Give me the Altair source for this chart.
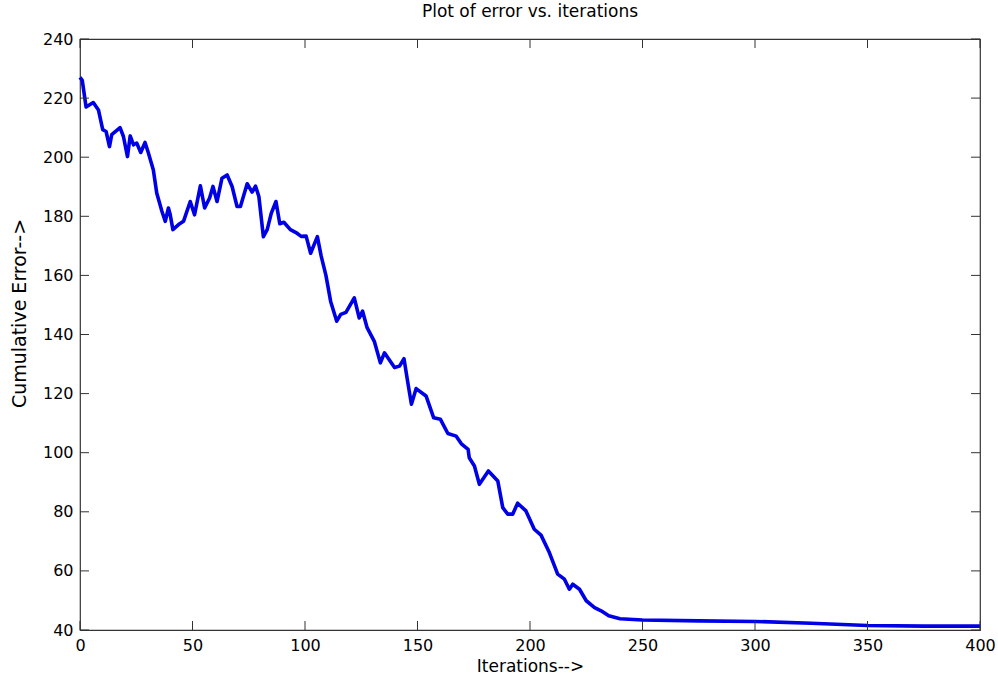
import altair as alt
import pandas as pd

iterations = [0, 1, 2.7, 5.9, 8.2, 10.1, 11.6, 13.1, 14.1, 17.8, 19.3, 21.1, 22.3, 23.8, 25.2, 27, 28.9,
              30.4, 32.6, 34.1, 36.4, 37.9, 39.3, 40.1, 41.3, 43.8, 46, 49, 50.9, 53.5, 55.4, 57.6,
              59.1, 60.9, 63.1, 65.4, 67.6, 69.8, 71.3, 74.3, 76.5, 78, 79.5, 81.5, 83.2, 85, 87.1,
              88.8, 90.6, 93.5, 96, 98.3, 100.5, 102.5, 105.5, 107.2, 109.3, 111.4, 114.1, 115.9,
              118.2, 121.9, 124.1, 125.6, 127.6, 130.8, 133.5, 135.3, 139.8, 142, 144, 145.6, 147.3,
              149.4, 153.8, 157.2, 160.2, 163.5, 167.2, 169.5, 172.5, 173, 175.3, 177.5, 181.5,
              185.7, 187.9, 190.1, 192.3, 194.5, 198.2, 201.9, 204.9, 208.6, 212.3, 215.3, 217.5,
              219, 222, 225, 228.7, 231.6, 235, 240, 250, 275, 300, 325, 350, 375, 400]
errors = [227, 226, 217, 218.5, 216, 209.3, 208.7, 203.6, 207.6, 210, 207, 200.2, 207.2, 204.2, 204.8,
          201.6, 205, 201.4, 195.7, 187.9, 181.7, 178.3, 182.8, 180.5, 175.5, 177.2, 178.3, 185,
          180.5, 190.3, 182.8, 186.2, 190.1, 185, 192.9, 194, 190.1, 183.3, 183.3, 191, 188.2,
          190.2, 186.7, 173.1, 175.5, 181, 185, 177.5, 178, 175.5, 174.5, 173.2, 173.3, 167.5,
          173.1, 166.5, 160, 151.2, 144.5, 146.8, 147.5, 152.4, 145.6, 147.9, 142.3, 137.7, 130.4,
          133.8, 128.8, 129.3, 131.8, 124.2, 116.4, 121.7, 119.2, 111.8, 111.3, 106.5, 105.6, 103,
          101.1, 98.3, 95.5, 89.3, 93.8, 90.4, 81.4, 79.2, 79.2, 82.9, 80.3, 74.1, 72.1, 66.2,
          58.9, 57.2, 53.8, 55.5, 53.8, 49.9, 47.6, 46.5, 44.8, 43.8, 43.4, 43.1, 42.9, 42.3,
          41.5, 41.3, 41.3]

x_ticks = [0, 50, 100, 150, 200, 250, 300, 350, 400]
y_ticks = [40, 60, 80, 100, 120, 140, 160, 180, 200, 220, 240]

W, H = 900, 591
TL = 9

df = pd.DataFrame({"it": iterations, "err": errors})
xt = pd.DataFrame({"t": x_ticks})
yt = pd.DataFrame({"t": y_ticks})

xs = alt.Scale(domain=[0, 400], nice=False, zero=False)
ys = alt.Scale(domain=[40, 240], nice=False, zero=False)

ax_common = dict(domain=False, ticks=False, grid=False,
                 labelFont="DejaVu Sans", labelFontSize=16, labelColor="black", labelPadding=7,
                 titleFont="DejaVu Sans", titleFontWeight="normal", titleColor="black")

line = alt.Chart(df).mark_line(color="#0000e6", strokeWidth=3.6, strokeJoin="round").encode(
    x=alt.X("it:Q", scale=xs, title="Iterations-->",
            axis=alt.Axis(values=x_ticks, labelFlush=False, titlePadding=5, titleFontSize=17,
                          **ax_common)),
    y=alt.Y("err:Q", scale=ys, title="Cumulative Error-->",
            axis=alt.Axis(values=y_ticks, titlePadding=13, titleFontSize=19, titleY=274,
                          **ax_common)),
)

tick_color = "#333333"
bt = alt.Chart(xt).mark_rule(color=tick_color, strokeWidth=1).encode(
    x=alt.X("t:Q", scale=xs), y=alt.value(H), y2=alt.value(H - TL))
tt = alt.Chart(xt).mark_rule(color=tick_color, strokeWidth=1).encode(
    x=alt.X("t:Q", scale=xs), y=alt.value(0), y2=alt.value(TL))
lt = alt.Chart(yt).mark_rule(color=tick_color, strokeWidth=1).encode(
    y=alt.Y("t:Q", scale=ys), x=alt.value(0), x2=alt.value(TL))
rt = alt.Chart(yt).mark_rule(color=tick_color, strokeWidth=1).encode(
    y=alt.Y("t:Q", scale=ys), x=alt.value(W), x2=alt.value(W - TL))

chart = alt.layer(line, bt, tt, lt, rt).properties(
    width=W, height=H,
    background="white",
    title=alt.TitleParams("Plot of error vs. iterations", font="DejaVu Sans", fontSize=17,
                          fontWeight="normal", color="black", offset=10),
    autosize="none",
    padding={"left": 80, "top": 39, "right": 18, "bottom": 46},
).configure_view(stroke="#333333", strokeWidth=1.2).configure_axis(
    domain=False, ticks=False, grid=False,
    labelFont="DejaVu Sans", labelFontSize=16, labelColor="black",
    titleFont="DejaVu Sans", titleFontWeight="normal", titleColor="black",
)

chart.save("out.html", embed_options={"renderer": "svg", "actions": False})
